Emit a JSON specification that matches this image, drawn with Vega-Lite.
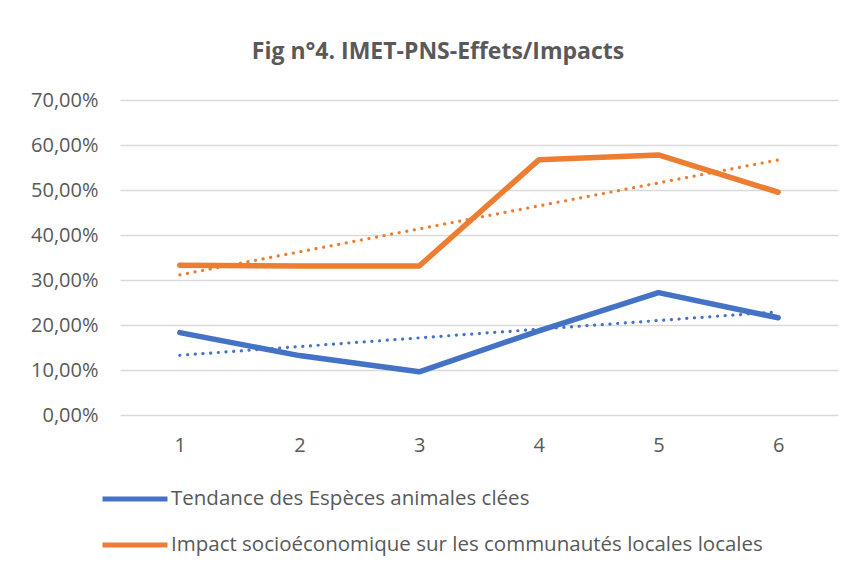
{
  "$schema": "https://vega.github.io/schema/vega-lite/v6.json",
  "width": 718,
  "height": 315,
  "autosize": {"type": "none"},
  "padding": {"left": 120, "top": 100, "right": 17, "bottom": 154},
  "background": "white",
  "config": {
    "locale": {"number": {"decimal": ",", "thousands": " ", "grouping": [3], "currency": ["", " €"]}},
    "view": {"stroke": null},
    "font": "Open Sans",
    "axis": {"labelFontSize": 20, "labelColor": "#595959", "labelFont": "Open Sans"}
  },
  "title": {
    "text": "Fig n°4. IMET-PNS-Effets/Impacts",
    "font": "Open Sans",
    "fontSize": 23,
    "fontWeight": "bold",
    "color": "#595959",
    "anchor": "middle",
    "dx": -41,
    "offset": 26
  },
  "data": {
    "values": [
      {"x": 1, "y": 0.183, "serie": "Tendance des Espèces animales clées"},
      {"x": 2, "y": 0.132, "serie": "Tendance des Espèces animales clées"},
      {"x": 3, "y": 0.096, "serie": "Tendance des Espèces animales clées"},
      {"x": 4, "y": 0.187, "serie": "Tendance des Espèces animales clées"},
      {"x": 5, "y": 0.272, "serie": "Tendance des Espèces animales clées"},
      {"x": 6, "y": 0.216, "serie": "Tendance des Espèces animales clées"},
      {"x": 1, "y": 0.333, "serie": "Impact socioéconomique sur les communautés locales locales"},
      {"x": 2, "y": 0.331, "serie": "Impact socioéconomique sur les communautés locales locales"},
      {"x": 3, "y": 0.331, "serie": "Impact socioéconomique sur les communautés locales locales"},
      {"x": 4, "y": 0.567, "serie": "Impact socioéconomique sur les communautés locales locales"},
      {"x": 5, "y": 0.578, "serie": "Impact socioéconomique sur les communautés locales locales"},
      {"x": 6, "y": 0.495, "serie": "Impact socioéconomique sur les communautés locales locales"}
    ]
  },
  "layer": [
    {
      "mark": {"type": "line", "strokeWidth": 5.5, "strokeCap": "round", "strokeJoin": "round"},
      "encoding": {
        "x": {"field": "x", "type": "quantitative", "scale": {"domain": [0.5, 6.5]},
          "axis": {"values": [1, 2, 3, 4, 5, 6], "format": "d", "title": null, "grid": false, "ticks": false, "domain": false,
            "labelFontSize": 20, "labelColor": "#595959", "labelPadding": 20, "labelFont": "Open Sans"}},
        "y": {"field": "y", "type": "quantitative", "scale": {"domain": [0, 0.7]},
          "axis": {"values": [0, 0.1, 0.2, 0.3, 0.4, 0.5, 0.6, 0.7], "format": ".2%", "title": null,
            "ticks": false, "domain": false, "gridColor": "#D9D9D9", "gridWidth": 1.5,
            "labelFontSize": 20, "labelColor": "#595959", "labelPadding": 22, "labelFont": "Open Sans"}},
        "color": {"field": "serie", "type": "nominal",
          "scale": {"domain": ["Tendance des Espèces animales clées", "Impact socioéconomique sur les communautés locales locales"], "range": ["#4472C4", "#ED7D31"]},
          "legend": {"title": null, "orient": "none", "legendX": -20, "legendY": 364, "direction": "vertical",
            "symbolType": "stroke", "symbolSize": 4225, "symbolStrokeWidth": 5, "symbolDash": [],
            "labelFontSize": 20.5, "labelColor": "#595959", "labelFont": "Open Sans", "labelOffset": 1,
            "rowPadding": -24, "labelLimit": 700}}
      }
    },
    {
      "transform": [
        {"regression": "y", "on": "x", "groupby": ["serie"], "extent": [1, 6]}
      ],
      "mark": {"type": "line", "strokeWidth": 3.2, "strokeDash": [0.1, 7.6], "strokeCap": "round"},
      "encoding": {
        "x": {"field": "x", "type": "quantitative"},
        "y": {"field": "y", "type": "quantitative"},
        "color": {"field": "serie", "type": "nominal"}
      }
    }
  ]
}
